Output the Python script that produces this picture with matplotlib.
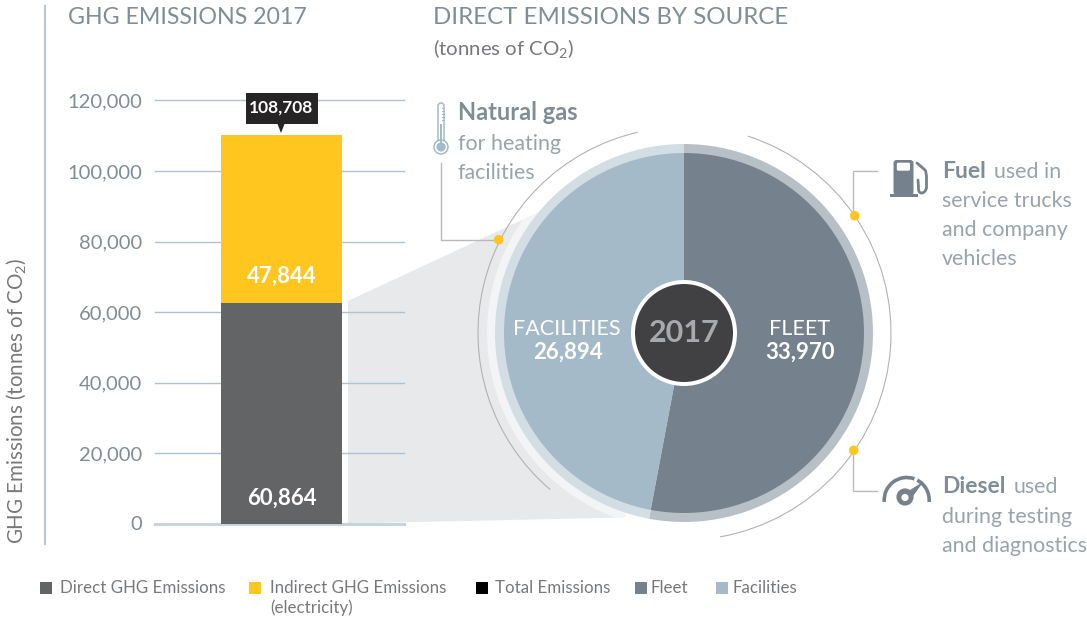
import matplotlib
matplotlib.use("Agg")
import matplotlib.pyplot as plt
from matplotlib.patches import Circle, Arc, Polygon, Rectangle, FancyBboxPatch, PathPatch
from matplotlib.path import Path

plt.rcParams['font.family'] = ['Lato', 'DejaVu Sans']
plt.rcParams['mathtext.default'] = 'regular'

# ---- data ----
y_ticks = [0, 20000, 40000, 60000, 80000, 100000, 120000]
direct_bar = 62550      # bar height as drawn in the picture
indirect_bar = 47660    # bar height as drawn in the picture
direct_label = "60,864"
indirect_label = "47,844"
total_label = "108,708"
pie_names = ["FLEET", "FACILITIES"]
pie_labels = ["33,970", "26,894"]
pie_shares = [52.96, 47.04]   # slice sizes as drawn in the picture
year = "2017"
legend_names = ["Direct GHG Emissions", "Indirect GHG Emissions\n(electricity)",
                "Total Emissions", "Fleet", "Facilities"]

# ---- colours ----
C_DARK, C_YEL = "#636466", "#fec61e"
C_FLEET, C_FAC = "#75828e", "#a5bac9"
C_RF, C_RK = "#b8c0c7", "#d2dde4"
C_TITLE, C_BODY, C_LEG = "#7f8d99", "#97a3ad", "#77787b"
C_LEAD = "#b7b9bb"
W, H = 1087, 619

fig = plt.figure(figsize=(W / 100, H / 100), dpi=100, facecolor="white")
def Y(p): return H - p
def pax(z):
    a = fig.add_axes([0, 0, 1, 1], zorder=z)
    a.set_xlim(0, W); a.set_ylim(0, H); a.axis("off"); a.patch.set_alpha(0)
    return a

# background wedge
bg = pax(0)
bg.add_patch(Polygon([(348, Y(301)), (540, Y(211.5)), (660, Y(300)), (625, Y(517.5)), (348, Y(523.5))],
                     closed=True, fc="#e8e9eb", ec="none"))

# bar axes
x0, x1, y0, y1 = 155, 404, 523.5, 100.5
ax = fig.add_axes([x0 / W, (H - y0) / H, (x1 - x0) / W, (y0 - y1) / H], zorder=1)
ax.patch.set_alpha(0)
ax.set_xlim(-(281.5 - x0) / (x1 - x0), (x1 - 281.5) / (x1 - x0))
ax.set_ylim(0, 120000)
for s in ax.spines.values():
    s.set_visible(False)
ax.set_yticks(y_ticks)
ax.set_yticklabels([f"{v:,}" for v in y_ticks], fontsize=14.5, color=C_TITLE)
ax.set_xticks([])
ax.tick_params(axis='y', length=0, pad=9.4)
ax.grid(axis='y', color="#aec3d2", lw=1, zorder=0)
for gl in ax.get_ygridlines():
    gl.set_clip_on(False)
ax.get_ygridlines()[0].set_visible(False)
ax.set_axisbelow(True)
ax.axhline(0, color="#c6d4de", lw=2.2, zorder=0.5, clip_on=False)
bw = 121 / (x1 - x0)
ax.bar([0], [direct_bar], width=bw, color=C_DARK, zorder=2)
ax.bar([0], [indirect_bar], bottom=[direct_bar], width=bw, color=C_YEL, zorder=2)
ax.text(0, 7300, direct_label, ha='center', va='center', color='white', fontsize=16, fontweight='bold', zorder=3)
ax.text(0, 70200, indirect_label, ha='center', va='center', color='white', fontsize=16, fontweight='bold', zorder=3)

# overlay
ov = pax(2)
ov.add_patch(Circle((684, Y(333)), 197, fc="white", ec="none", alpha=0.5))
ov.pie(pie_shares, colors=[C_RF, C_RK], radius=189, center=(684, Y(333)), startangle=90,
       counterclock=False, frame=True, wedgeprops=dict(lw=0))
ov.pie(pie_shares, colors=[C_FLEET, C_FAC], radius=180, center=(684, Y(333)), startangle=90,
       counterclock=False, frame=True, wedgeprops=dict(lw=0))
ov.set_xlim(0, W); ov.set_ylim(0, H); ov.set_aspect('auto'); ov.axis("off")
ov.add_patch(Circle((684, Y(333)), 53, fc="white", ec="none"))
ov.add_patch(Circle((684, Y(333)), 49, fc="#414042", ec="none"))
ov.text(684, Y(333), year, ha='center', va='center', color="#a7a9ac", fontsize=22, fontweight='bold')
ov.text(567, Y(329), pie_names[1], ha='center', va='center', color='white', fontsize=15.5)
ov.text(568, Y(352), pie_labels[1], ha='center', va='center', color='white', fontsize=16, fontweight='bold')
ov.text(800, Y(329), pie_names[0], ha='center', va='center', color='white', fontsize=15.5)
ov.text(800, Y(352), pie_labels[0], ha='center', va='center', color='white', fontsize=16, fontweight='bold')

# thin arcs
ov.add_patch(Arc((684, Y(333)), 412, 412, theta1=103, theta2=229.5, color="#b0b2b5", lw=0.8))
ov.add_patch(Arc((684, Y(333)), 414, 414, theta1=-80, theta2=72, color="#b0b2b5", lw=0.8))

# leaders and dots
for pts in ([(441, 163), (441, 239.5), (497, 239.5)],
            [(853.3, 214), (853.3, 171.3), (876.7, 171.3)],
            [(853.3, 451), (853.3, 491), (876.7, 491)]):
    ov.plot([p[0] for p in pts], [Y(p[1]) for p in pts], color=C_LEAD, lw=1, solid_joinstyle='miter')
for cx, cy in [(498.7, 239.7), (854.7, 215.7), (853.7, 450.3)]:
    ov.add_patch(Circle((cx, Y(cy)), 4.8, fc=C_YEL, ec="none", zorder=5))

# left vertical rule
ov.plot([45, 45], [Y(6), Y(544)], color="#b9c8d3", lw=1.6)

# tooltip
ov.add_patch(Rectangle((246, Y(124)), 72, 31, fc="#262425", ec="none"))
ov.add_patch(Polygon([(277.5, Y(124)), (284.5, Y(124)), (281, Y(133))], fc="#262425", ec="none"))
ov.text(281.5, Y(108), total_label, ha='center', va='center', color='white', fontsize=12.5, fontweight='bold')

# titles
ov.text(68, Y(18), "GHG EMISSIONS 2017", ha='left', va='center', color=C_TITLE, fontsize=16.7)
ov.text(433, Y(18), "DIRECT EMISSIONS BY SOURCE", ha='left', va='center', color=C_TITLE, fontsize=17.25)
ov.text(433, Y(48), "(tonnes of CO$_2$)", ha='left', va='center', color=C_LEG, fontsize=14.7)
ov.text(16, Y(400.5), "GHG Emissions (tonnes of CO$_2$)", rotation=90, ha='center', va='center',
        color=C_LEG, fontsize=14.8)

# callouts
def runs(x, py, bold, rest, fs=15.4, fb=16.5):
    if bold:
        t = ov.text(x, Y(py), bold, ha='left', va='baseline', color=C_TITLE, fontsize=fb, fontweight='bold')
        fig.canvas.draw()
        x = t.get_window_extent().x1 + 8
    if rest:
        ov.text(x, Y(py), rest, ha='left', va='baseline', color=C_BODY, fontsize=fs)

runs(458, 120, "Natural gas", "", fb=17)
runs(458, 150, "", "for heating")
runs(458, 179, "", "facilities")
runs(942, 178, "Fuel", "used in")
runs(942, 207, "", "service trucks")
runs(942, 236, "", "and company")
runs(942, 265, "", "vehicles")
runs(942, 493, "Diesel", "used")
runs(942, 523, "", "during testing")
runs(942, 552, "", "and diagnostics")

# thermometer icon
ic = C_FAC
ov.add_patch(FancyBboxPatch((438, Y(150)), 6, 47, boxstyle="round,pad=0,rounding_size=3", fc="white", ec=ic, lw=1.1, zorder=6))
ov.add_patch(Circle((441, Y(147)), 7, fc="white", ec=ic, lw=1.1, zorder=6))
ov.add_patch(Rectangle((439.8, Y(148)), 2.4, 24, fc=ic, ec="none", zorder=7))
ov.add_patch(Circle((441, Y(147)), 4.6, fc=ic, ec="none", zorder=7))
for ty in (108, 111, 114, 117, 120):
    ov.plot([441.5, 444], [Y(ty), Y(ty)], color=ic, lw=0.7, zorder=8)

# fuel pump icon
pc = C_FLEET
ov.add_patch(FancyBboxPatch((893.5, Y(195)), 20, 35, boxstyle="round,pad=0,rounding_size=3", fc=pc, ec="none", zorder=6))
ov.add_patch(Rectangle((890.3, Y(197)), 27.4, 2.8, fc=pc, ec="none", zorder=6))
ov.add_patch(FancyBboxPatch((896.8, Y(170.7)), 13.2, 8, boxstyle="round,pad=0,rounding_size=1.5", fc="white", ec="none", zorder=7))
hose = Path([(917, Y(163)), (925, Y(170)), (926.5, Y(172)), (926.5, Y(178)), (926.5, Y(188)), (925, Y(193)), (921.5, Y(193)),
             (918, Y(193)), (918.5, Y(187)), (918, Y(180))],
            [Path.MOVETO, Path.LINETO, Path.CURVE3, Path.CURVE3, Path.LINETO, Path.CURVE3, Path.CURVE3,
             Path.CURVE3, Path.CURVE3, Path.LINETO])
ov.add_patch(PathPatch(hose, fc="none", ec=pc, lw=2, zorder=6, capstyle='round'))

# gauge icon
ov.add_patch(Arc((906.7, Y(500)), 45, 45, theta1=-5, theta2=62, color=pc, lw=2.6, zorder=6))
ov.add_patch(Arc((906.7, Y(500)), 45, 45, theta1=70, theta2=185, color=pc, lw=2.6, zorder=6))
ov.add_patch(Polygon([(923.5, Y(481.5)), (910, Y(490)), (899, Y(493)), (907.5, Y(504))], fc=pc, ec="none", zorder=6))
ov.add_patch(Circle((905, Y(497)), 8.6, fc=pc, ec="none", zorder=6))
ov.add_patch(Circle((905, Y(497.5)), 3.6, fc="white", ec="none", zorder=7))

# legend
leg_sq = [40, 249, 476, 635, 716]
leg_tx = [60, 270, 495, 651, 733]
leg_cl = [C_DARK, C_YEL, "#000000", C_FLEET, C_FAC]
for sx, tx, c, name in zip(leg_sq, leg_tx, leg_cl, legend_names):
    ov.add_patch(Rectangle((sx, Y(594)), 12, 12, fc=c, ec="none"))
    lines = name.split("\n")
    ov.text(tx, Y(588), lines[0], ha='left', va='center', color=C_LEG, fontsize=12.2)
    if len(lines) > 1:
        ov.text(tx, Y(608), lines[1], ha='left', va='center', color=C_LEG, fontsize=12.2)

fig.savefig("out.png", dpi=100, facecolor="white")
